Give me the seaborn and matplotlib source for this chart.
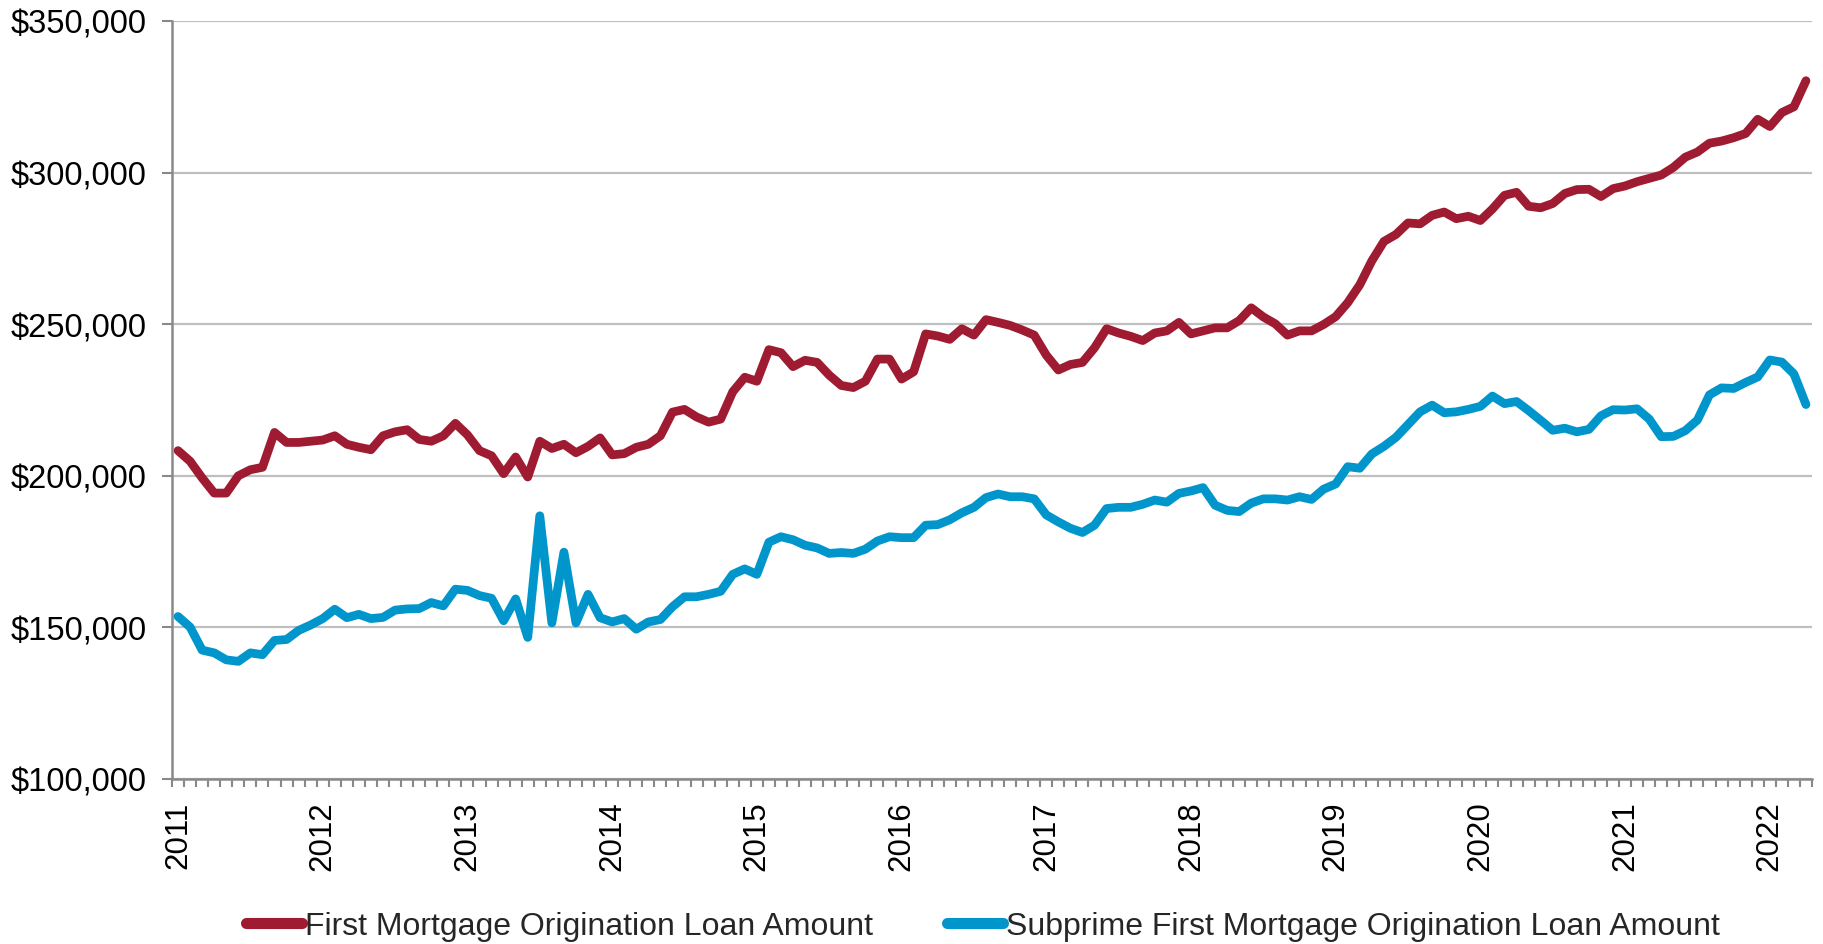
import numpy as np
import pandas as pd
import matplotlib
matplotlib.use("Agg")
import matplotlib.pyplot as plt
import seaborn as sns
from matplotlib.ticker import FuncFormatter

# Monthly average origination loan amounts, in thousands of dollars (Jan 2011 - Apr 2022)
first_mortgage_k = [
    208.3, 204.8, 199.3, 194.3, 194.3, 200.0, 202.0, 202.8, 214.3, 211.0, 211.0, 211.4,
    211.8, 213.2, 210.4, 209.4, 208.6, 213.2, 214.5, 215.2, 212.0, 211.4, 213.2, 217.3,
    213.5, 208.3, 206.6, 200.7, 206.2, 199.6, 211.4, 209.0, 210.4, 207.6, 209.7, 212.5,
    206.9, 207.3, 209.4, 210.4, 213.2, 221.0, 221.9, 219.4, 217.7, 218.7, 227.7, 232.5,
    231.2, 241.6, 240.6, 236.0, 238.1, 237.4, 233.2, 229.8, 229.1, 231.2, 238.5, 238.5,
    231.9, 234.3, 246.8, 246.1, 245.0, 248.5, 246.4, 251.5, 250.6, 249.6, 248.1, 246.4,
    239.8, 234.9, 236.7, 237.4, 242.2, 248.5, 247.1, 246.0, 244.6, 247.1, 247.8, 250.6,
    246.8, 247.8, 248.8, 248.8, 251.2, 255.4, 252.4, 250.1, 246.4, 247.8, 247.8, 249.9,
    252.5, 257.1, 263.0, 270.9, 277.3, 279.6, 283.4, 283.1, 285.9, 287.0, 284.8, 285.6,
    284.2, 288.0, 292.5, 293.5, 288.9, 288.4, 289.8, 293.1, 294.4, 294.5, 292.1, 294.7,
    295.6, 297.0, 298.1, 299.2, 301.7, 305.1, 306.8, 309.7, 310.4, 311.5, 312.9, 317.6,
    315.2, 319.8, 321.7, 330.3,
]
subprime_k = [
    153.6, 150.1, 142.5, 141.6, 139.3, 138.8, 141.6, 141.0, 145.7, 146.0, 149.0, 150.8,
    152.9, 156.0, 153.2, 154.3, 152.9, 153.3, 155.7, 156.1, 156.2, 158.2, 157.1, 162.6,
    162.2, 160.5, 159.6, 152.2, 159.4, 146.7, 186.8, 151.5, 174.8, 151.5, 160.9, 153.2,
    151.8, 152.9, 149.4, 151.8, 152.6, 156.8, 160.1, 160.1, 160.9, 161.9, 167.5, 169.3,
    167.5, 178.1, 179.9, 178.9, 177.1, 176.2, 174.4, 174.7, 174.4, 175.8, 178.5, 179.9,
    179.6, 179.6, 183.7, 183.9, 185.5, 187.8, 189.6, 192.8, 194.0, 193.1, 193.1, 192.4,
    187.1, 184.8, 182.7, 181.3, 183.7, 189.2, 189.6, 189.6, 190.6, 192.0, 191.3, 194.2,
    195.0, 196.1, 190.3, 188.6, 188.2, 191.0, 192.4, 192.4, 192.0, 193.1, 192.2, 195.6,
    197.3, 203.0, 202.5, 207.2, 209.7, 212.7, 216.9, 221.1, 223.3, 220.8, 221.1, 221.9,
    222.9, 226.3, 223.8, 224.5, 221.5, 218.3, 215.0, 215.7, 214.5, 215.3, 219.8, 221.8,
    221.7, 222.1, 218.7, 212.9, 213.0, 214.9, 218.4, 226.7, 229.0, 228.8, 230.8, 232.6,
    238.2, 237.5, 233.6, 223.5,
]
series_names = [
    "First Mortgage Origination Loan Amount",
    "Subprime First Mortgage Origination Loan Amount",
]
series_colors = ["#9E1B32", "#0096CC"]
months = pd.period_range("2011-01", periods=len(first_mortgage_k), freq="M")

sns.set_theme(style="white")
plt.rcParams["font.family"] = ["Liberation Sans", "DejaVu Sans"]

n = len(months)
df = pd.DataFrame({
    "month": np.tile(np.arange(n), 2),
    "amount": np.concatenate([first_mortgage_k, subprime_k]) * 1000,
    "series": np.repeat(series_names, n),
})

W, H = 1823, 945
fig = plt.figure(figsize=(W / 100, H / 100), dpi=100)
ax = fig.add_axes([172 / W, 1 - 780 / H, (1812 - 172) / W, (780 - 22) / H])

sns.lineplot(
    data=df, x="month", y="amount", hue="series",
    palette=dict(zip(series_names, series_colors)),
    linewidth=6.3, estimator=None, sort=False, ax=ax,
)
for line in ax.lines:
    line.set_solid_joinstyle("round")
    line.set_solid_capstyle("round")

ax.set_xlim(-0.5, n - 0.5)
ax.set_ylim(100000, 350000)
ax.set_yticks(np.arange(100000, 350001, 50000))
ax.yaxis.set_major_formatter(FuncFormatter(lambda v, p: f"${v:,.0f}"))
ax.grid(axis="y", color="#BFBFBF", linewidth=1.6)
ax.grid(axis="x", visible=False)
ax.set_axisbelow(True)

year_idx = [i for i, m in enumerate(months) if m.month == 1]
ax.set_xticks(year_idx)
ax.set_xticklabels([str(months[i].year) for i in year_idx], rotation=90)
ax.set_xticks(np.arange(-0.5, n), minor=True)

axis_gray = "#898989"
ax.tick_params(axis="x", which="major", bottom=True, length=0, pad=15.5,
               labelsize=22.5, labelcolor="black")
ax.tick_params(axis="x", which="minor", bottom=True, length=6, width=1.5,
               color=axis_gray, direction="out")
ax.tick_params(axis="y", which="major", left=True, length=7, width=1.5,
               color=axis_gray, direction="out", pad=11.5, labelsize=23.5,
               labelcolor="black")

for side in ["top", "right"]:
    ax.spines[side].set_visible(False)
for side in ["left", "bottom"]:
    ax.spines[side].set_color(axis_gray)
    ax.spines[side].set_linewidth(1.8)

ax.set_xlabel("")
ax.set_ylabel("")

sns.move_legend(
    ax, "center",
    bbox_to_anchor=(983 / W, 1 - 927 / H), bbox_transform=fig.transFigure,
    ncol=2, frameon=False, title=None, fontsize=23,
    handlelength=1.75, handletextpad=0.1, columnspacing=2.3,
)
for h in ax.get_legend().legend_handles:
    h.set_linewidth(8)
    h.set_solid_capstyle("round")

fig.savefig("out.png", dpi=100)
